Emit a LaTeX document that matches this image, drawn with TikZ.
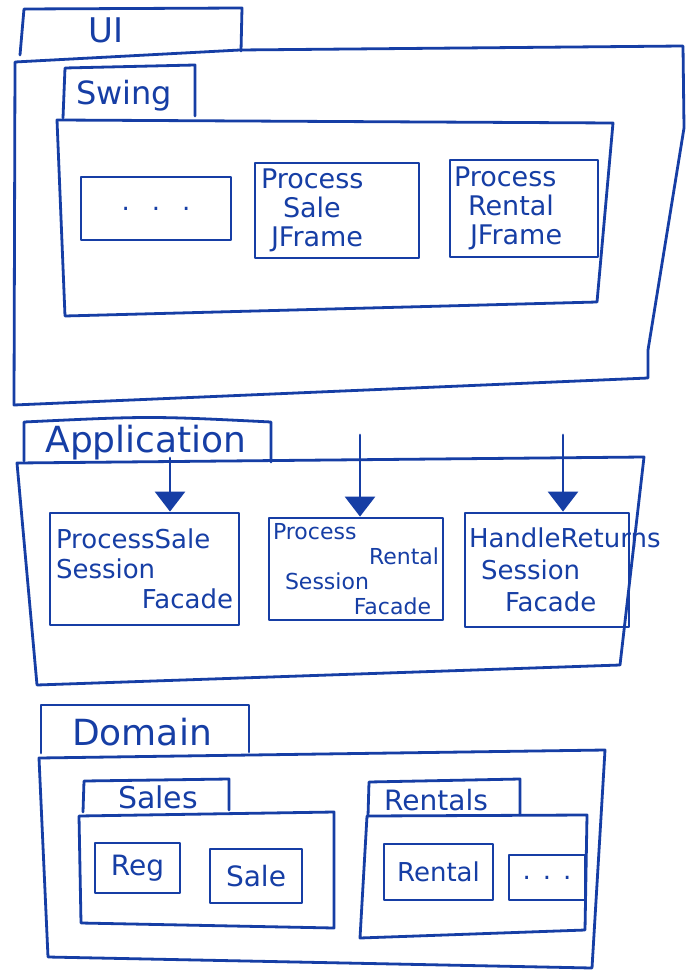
\documentclass[tikz,border=0pt]{standalone}
\usepackage{fontspec}
\setmainfont{DejaVu Sans}
\usetikzlibrary{arrows.meta}
\definecolor{ink}{RGB}{22,62,165}
\tikzset{
  inkline/.style={draw=ink, line width=2.8pt, line join=round, line cap=round},
  leaf/.style={inkline, rectangle, inner sep=0pt, text=ink, align=left},
  lbl/.style={text=ink, inner sep=0pt},
  dep/.style={inkline, -{Triangle[width=30pt,length=20pt]}}
}
\begin{document}
\begin{tikzpicture}[x=1pt,y=-1pt]
\useasboundingbox (0,0) rectangle (685,973);
\fill[white] (0,0) rectangle (685,973);

% ---------------- UI package ----------------
\draw[inkline] (20,55) -- (24,9) -- (242,8) -- (241,51);
\draw[inkline] (15,62) -- (240,50) -- (683,46) -- (684,128) -- (648,350) -- (648,378) -- (14,405) -- cycle;
\node[lbl, font=\fontsize{34}{36}\selectfont] (uilbl) at (106,30) {UI};

% Swing package
\draw[inkline] (63,118) -- (65,68) -- (195,65) -- (195,116);
\draw[inkline] (57,120) -- (613,123) -- (597,302) -- (65,316) -- cycle;
\node[lbl, font=\fontsize{32}{34}\selectfont] (swinglbl) at (124,96) {Swing};

\node[leaf, minimum width=150pt, minimum height=63pt, font=\fontsize{26}{28}\selectfont] (dots1) at (156,208.5) {.\hspace{22pt}.\hspace{22pt}.};
\node[leaf, minimum width=164pt, minimum height=95pt, text width=152pt, font=\fontsize{27}{29}\selectfont] (psj) at (337,210.5) {Process\\\hspace*{22pt}Sale\\\hspace*{10pt}JFrame};
\node[leaf, minimum width=148pt, minimum height=97pt, text width=140pt, font=\fontsize{27}{29}\selectfont] (prj) at (524,208.5) {Process\\\hspace*{14pt}Rental\\\hspace*{16pt}JFrame};

% ---------------- Application package ----------------
\draw[inkline] (24,461) -- (24,422) .. controls (150,416) .. (271,422) -- (271,462);
\draw[inkline] (17,463) -- (644,457) -- (620,665) -- (37,685) -- cycle;
\node[lbl, font=\fontsize{36}{38}\selectfont] (applbl) at (146,443) {Application};

\node[leaf, minimum width=189pt, minimum height=112pt, text width=177pt, font=\fontsize{26}{30}\selectfont] (psf) at (144.5,569) {ProcessSale\\Session\\\hspace*{\fill}Facade};
\node[leaf, minimum width=174pt, minimum height=102pt, text width=166pt, font=\fontsize{22}{25}\selectfont] (prf) at (356,569) {Process\\\hspace*{\fill}Rental\\\hspace*{12pt}Session\\\hspace*{\fill}Facade\hspace*{8pt}};
\node[leaf, minimum width=164pt, minimum height=114pt, text width=156pt, font=\fontsize{26}{32}\selectfont] (hrf) at (547,570) {HandleReturns\\\hspace*{12pt}Session\\\hspace*{36pt}Facade};

\coordinate (s1) at (170,458);
\coordinate (s2) at (360,435);
\coordinate (s3) at (563,435);
\draw[dep] (s1) -- (s1 |- psf.north);
\draw[dep] (s2) -- (s2 |- prf.north);
\draw[dep] (s3) -- (s3 |- hrf.north);

% ---------------- Domain package ----------------
\draw[inkline] (41,753) -- (41,705) -- (249,705) -- (249,752);
\draw[inkline] (39,758) -- (605,750) -- (592,968) -- (48,957) -- cycle;
\node[lbl, font=\fontsize{36}{38}\selectfont] (domlbl) at (142,732) {Domain};

% Sales package
\draw[inkline] (83,812) -- (84,781) -- (229,779) -- (229,810);
\draw[inkline] (79,816) -- (334,812) -- (334,928) -- (81,923) -- cycle;
\node[lbl, font=\fontsize{30}{32}\selectfont] (saleslbl) at (158,797) {Sales};
\node[leaf, minimum width=85pt, minimum height=50pt, font=\fontsize{28}{30}\selectfont] (reg) at (137.5,868) {Reg};
\node[leaf, minimum width=92pt, minimum height=54pt, font=\fontsize{28}{30}\selectfont] (sale) at (256,876) {Sale};

% Rentals package
\draw[inkline] (368,816) -- (369,782) -- (520,779) -- (520,815);
\draw[inkline] (367,816) -- (587,815) -- (585,930) -- (360,938) -- cycle;
\node[lbl, font=\fontsize{28}{30}\selectfont] (rentalslbl) at (436,800) {Rentals};
\node[leaf, minimum width=109pt, minimum height=56pt, font=\fontsize{26}{28}\selectfont] (rental) at (438.5,872) {Rental};
\node[leaf, minimum width=76pt, minimum height=45pt, font=\fontsize{26}{28}\selectfont] (dots2) at (547,877.5) {.\hspace{12pt}.\hspace{12pt}.};
\end{tikzpicture}
\end{document}
